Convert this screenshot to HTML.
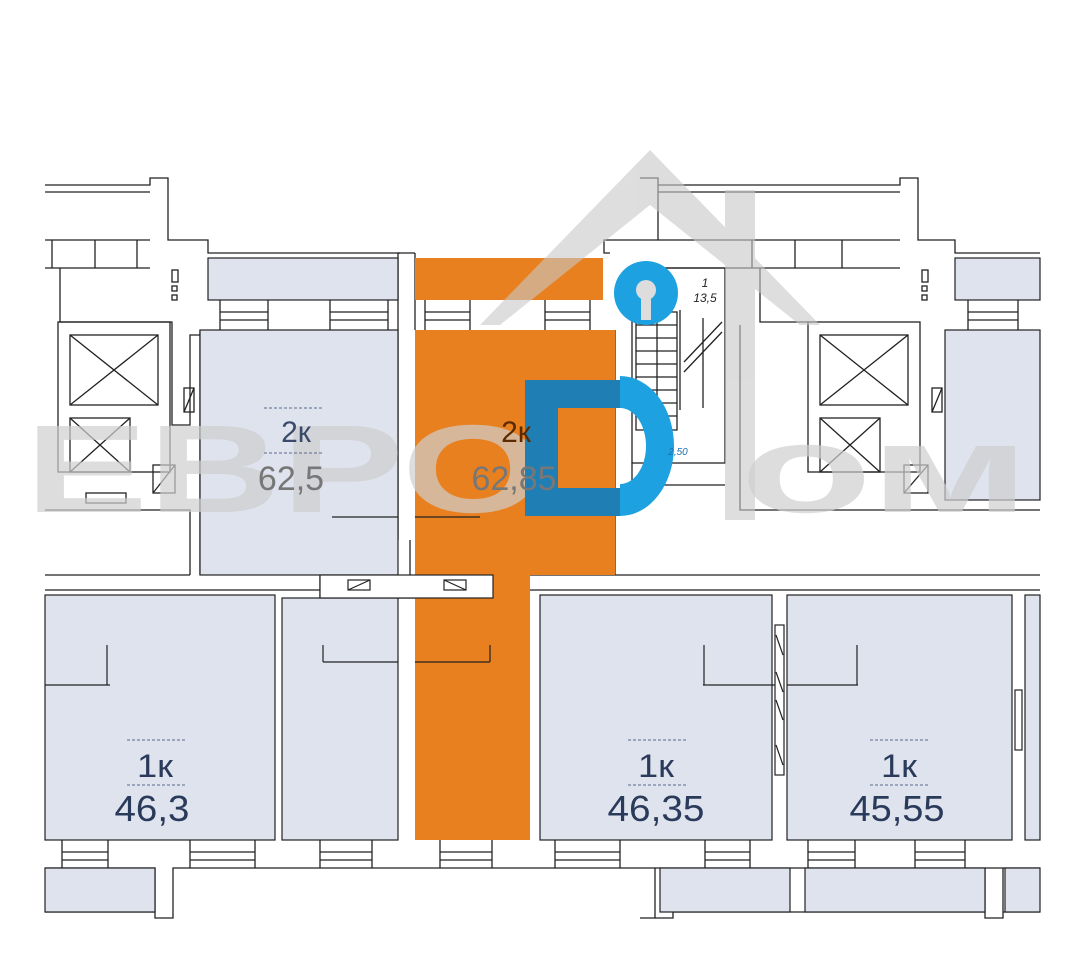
<!DOCTYPE html>
<html><head><meta charset="utf-8"><style>
html,body{margin:0;padding:0;background:#fff;}
svg{display:block}
text{font-family:"Liberation Sans",sans-serif}
</style></head><body>
<svg width="1079" height="973" viewBox="0 0 1079 973" xmlns="http://www.w3.org/2000/svg">
<g stroke="#222" stroke-width="1.3" fill="none">
<path d="M45 185H150V178H168V240H208V253H400"/>
<path d="M45 192H150"/>
<path d="M45 240H150 M45 268H150 M52 240V268 M95 240V268 M137 240V268"/>
<path d="M640 178H658V240H604V253H610"/>
<path d="M658 185H900V178H918V240H955V253H1040"/>
<path d="M658 192H900"/>
<path d="M658 240H900 M658 268H900 M752 240V268 M795 240V268 M842 240V268"/>
<path d="M60 268V322H172V425H190V335H200"/>
<rect x="58" y="322" width="112" height="150"/>
<rect x="70" y="335" width="88" height="70"/>
<path d="M70 335L158 405M158 335L70 405"/>
<rect x="70" y="418" width="60" height="54"/>
<path d="M70 418L130 472M130 418L70 472"/>
<rect x="153" y="465" width="22" height="28"/><path d="M153 493L175 465"/>
<rect x="86" y="493" width="40" height="10"/>
<path d="M45 510H190V575"/>
<rect x="184" y="388" width="10" height="24"/><path d="M184 412L194 388"/>
<rect x="172" y="270" width="6" height="12"/><rect x="172" y="286" width="5" height="5"/><rect x="172" y="295" width="5" height="5"/>
<rect x="808" y="322" width="112" height="150"/>
<rect x="820" y="335" width="88" height="70"/>
<path d="M820 335L908 405M908 335L820 405"/>
<rect x="820" y="418" width="60" height="54"/>
<path d="M820 418L880 472M880 418L820 472"/>
<rect x="904" y="465" width="24" height="28"/><path d="M904 493L928 465"/>
<rect x="932" y="388" width="10" height="24"/><path d="M932 412L942 388"/>
<rect x="922" y="270" width="6" height="12"/><rect x="922" y="286" width="5" height="5"/><rect x="922" y="295" width="5" height="5"/>
<path d="M760 268V322H808 M740 325V510H1040"/>
<rect x="632" y="268" width="93" height="195"/>
<path d="M636 312V430H677V312Z"/>
<path d="M636 325H677M636 338H677M636 351H677M636 364H677M636 377H677M636 390H677M636 403H677M636 416H677"/>
<path d="M657 312V430"/>
<path d="M680 310V410M684 362L722 322M684 372L722 332"/>
<path d="M703 318V408"/>
<path d="M632 463V485H725"/>
<path d="M398 253V330 M415 253V330 M398 253H415"/>
<path d="M200 330V575 M398 330V540 M410 540V575"/>
<path d="M615 330V575 M530 575H1040 M45 575H190"/>
<path d="M45 590H320 M320 575V598H493V575"/>
<path d="M530 590H1040"/>
<path d="M220 300V330 M268 300V330 M220 312H268 M220 320H268 M330 300V330 M388 300V330 M330 312H388 M330 320H388"/>
<path d="M425 300V330 M470 300V330 M425 312H470 M425 320H470 M545 300V330 M590 300V330 M545 312H590 M545 320H590"/>
<path d="M968 300V330 M1018 300V330 M968 312H1018 M968 320H1018"/>
<path d="M45 868H155V918H173V868H655V918H640 M655 868V918"/>
<path d="M62 840V868 M108 840V868 M62 852H108 M62 860H108 M190 840V868 M255 840V868 M190 852H255 M190 860H255"/>
<path d="M320 840V868 M372 840V868 M320 852H372 M320 860H372 M440 840V868 M492 840V868 M440 852H492 M440 860H492"/>
<path d="M555 840V868 M620 840V868 M555 852H620 M555 860H620 M705 840V868 M750 840V868 M705 852H750 M705 860H750"/>
<path d="M808 840V868 M855 840V868 M808 852H855 M808 860H855 M915 840V868 M965 840V868 M915 852H965 M915 860H965"/>
<path d="M655 868H1040 M655 918H673V868 M985 868V918H1003V868"/>
<path d="M45 912H155 M673 912H985 M1003 912H1040"/>
</g>
<g stroke="#222" stroke-width="1.2">
<rect x="208" y="258" width="190" height="42" fill="#dfe3ee"/>
<rect x="955" y="258" width="85" height="42" fill="#dfe3ee"/>
<rect x="415" y="258" width="188" height="42" fill="#e9801f" stroke="none"/>
<rect x="200" y="330" width="198" height="245" fill="#dfe3ee"/>
<rect x="282" y="598" width="116" height="242" fill="#dfe3ee"/>
<rect x="945" y="330" width="95" height="170" fill="#dfe3ee"/>
<rect x="45" y="595" width="230" height="245" fill="#dfe3ee"/>
<rect x="540" y="595" width="232" height="245" fill="#dfe3ee"/>
<rect x="787" y="595" width="225" height="245" fill="#dfe3ee"/>
<rect x="1025" y="595" width="15" height="245" fill="#dfe3ee"/>
<rect x="45" y="868" width="110" height="44" fill="#dfe3ee"/>
<rect x="660" y="868" width="130" height="44" fill="#dfe3ee"/>
<rect x="805" y="868" width="180" height="44" fill="#dfe3ee"/>
<rect x="1005" y="868" width="35" height="44" fill="#dfe3ee"/>
</g>
<rect x="415" y="330" width="200" height="245" fill="#e9801f"/>
<rect x="415" y="575" width="115" height="265" fill="#e9801f"/>
<rect x="320" y="575" width="173" height="23" fill="#fff" stroke="#222" stroke-width="1.2"/>
<g stroke="#222" stroke-width="1.2" fill="none">
<rect x="348" y="580" width="22" height="10"/><path d="M348 590L370 580"/>
<rect x="444" y="580" width="22" height="10"/><path d="M444 580L466 590"/>
<path d="M332 517H398 M415 517H480 M323 662H398 M415 662H490 M45 685H110 M703 685H775 M787 685H858"/>
<path d="M107 645V685 M704 645V685 M857 645V685 M490 645V662 M323 645V662"/>
<rect x="775" y="625" width="9" height="150"/>
<path d="M776 635L783 655M776 672L783 692M776 700L783 720M776 745L783 765"/>
<rect x="1015" y="690" width="7" height="60"/>
</g>
<g fill="#c8c8c8" opacity="0.6">
<polygon points="480,325 650,150 820,325 800,325 650,205 500,325"/>
<rect x="725" y="190" width="30" height="330"/>
</g>
<text x="25" y="512" font-family="Liberation Serif,serif" font-weight="bold" font-size="125" fill="#cfcfcf" opacity="0.7" textLength="520" lengthAdjust="spacingAndGlyphs">ЕВРО</text>
<text x="740" y="512" font-family="Liberation Serif,serif" font-weight="bold" font-size="125" fill="#cfcfcf" opacity="0.7" textLength="290" lengthAdjust="spacingAndGlyphs">ом</text>
<path d="M620 376A54 70 0 0 1 620 516V484A26 38 0 0 0 620 408Z" fill="#1da1e0"/>
<path d="M525 380H620V516H525Z M558 408V488H620V408Z" fill="#1f7fb5" fill-rule="evenodd"/>
<circle cx="646" cy="293" r="32" fill="#1da1e0"/>
<circle cx="646" cy="290" r="10" fill="#ddd"/><rect x="641" y="292" width="10" height="28" fill="#ddd"/>
<g fill="#2a3a5a" text-anchor="middle">
<text x="296" y="442" font-size="30" fill="#3a4a6a">2к</text>
<text x="291" y="490" font-size="34" fill="#777">62,5</text>
<text x="516" y="442" font-size="30" fill="#5a2a00">2к</text>
<text x="514" y="490" font-size="34" fill="#777">62,85</text>
<text x="155" y="777" font-size="32" textLength="36" lengthAdjust="spacingAndGlyphs">1к</text>
<text x="152" y="821" font-size="36" textLength="75" lengthAdjust="spacingAndGlyphs">46,3</text>
<text x="656" y="777" font-size="32" textLength="36" lengthAdjust="spacingAndGlyphs">1к</text>
<text x="656" y="821" font-size="36" textLength="97" lengthAdjust="spacingAndGlyphs">46,35</text>
<text x="899" y="777" font-size="32" textLength="36" lengthAdjust="spacingAndGlyphs">1к</text>
<text x="897" y="821" font-size="36" textLength="95" lengthAdjust="spacingAndGlyphs">45,55</text>
<text x="705" y="287" font-size="12" font-style="italic" fill="#222">1</text>
<text x="705" y="302" font-size="12" font-style="italic" fill="#222">13,5</text>
<text x="678" y="455" font-size="10" font-style="italic" fill="#1a70b0">2,50</text>
</g>
<g stroke="#5a6a8a" stroke-width="1" stroke-dasharray="3,2">
<path d="M264 408H324 M264 453H324 M127 740H187 M127 785H187 M628 740H688 M628 785H688 M870 740H930 M870 785H930"/>
</g>
</svg>
</body></html>
